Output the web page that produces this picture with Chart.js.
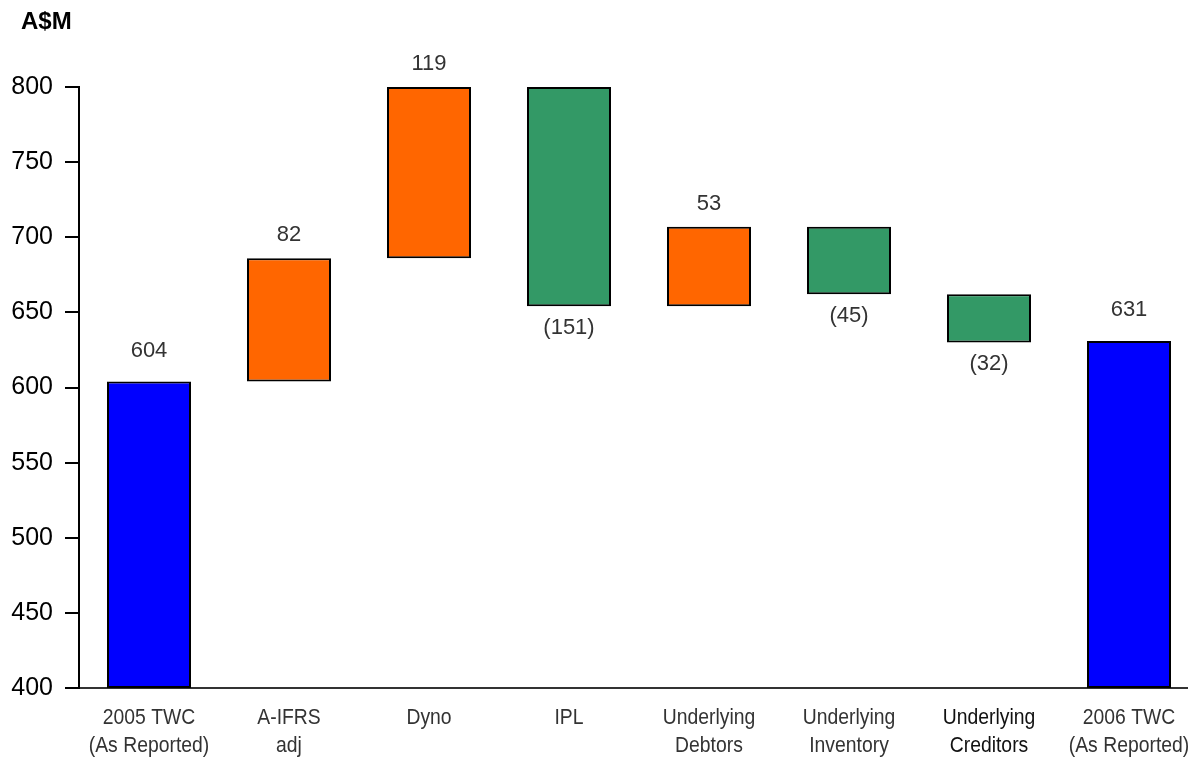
<!DOCTYPE html>
<html>
<head>
<meta charset="utf-8">
<script src="https://cdn.jsdelivr.net/npm/chart.js@4/dist/chart.umd.min.js"></script>
<style>
  body { margin: 0; overflow: hidden; background: #fff; }
  #unit { position: absolute; left: 21px; top: 7px; font: bold 24px 'Liberation Sans', Arial, sans-serif; color: #000; }
  #wrap { position: relative; width: 1188px; height: 759px; overflow: hidden; }
</style>
</head>
<body>
<div id="wrap">
  <canvas id="waterfall" width="1199" height="759"></canvas>
  <div id="unit">A$M</div>
</div>
<script>
// Waterfall data (A$M)
const categories = [
    ['2005 TWC', '(As Reported)'],
    ['A-IFRS', 'adj'],
    ['Dyno'],
    ['IPL'],
    ['Underlying', 'Debtors'],
    ['Underlying', 'Inventory'],
    ['Underlying', 'Creditors'],
    ['2006 TWC', '(As Reported)']
];
const changes = [604, 82, 119, -151, 53, -45, -32, 631];
const kinds = ['total', 'step', 'step', 'step', 'step', 'step', 'step', 'total'];
const yTicks = [400, 450, 500, 550, 600, 650, 700, 750, 800];

const yMin = 400, yMax = 800;

// floating ranges built from the changes
let running = 0;
const ranges = changes.map((v, i) => {
    let lo, hi;
    if (kinds[i] === 'total') {
        lo = yMin; hi = v; running = v;
    } else {
        const start = running;
        running += v;
        lo = start; hi = running;
    }
    return [Math.min(lo, yMax), Math.min(hi, yMax)];
});
const colours = changes.map((v, i) =>
    kinds[i] === 'total' ? '#0000FF' : (v > 0 ? '#FF6600' : '#339966'));
const labels = changes.map(v => v < 0 ? '(' + Math.abs(v) + ')' : String(v));

// value labels above / below each bar
const barLabels = {
    id: 'barLabels',
    afterDatasetsDraw(chart) {
        const ctx = chart.ctx;
        const meta = chart.getDatasetMeta(0);
        ctx.save();
        ctx.font = '22px "Liberation Sans", Arial, sans-serif';
        ctx.fillStyle = '#333';
        ctx.textAlign = 'center';
        ctx.textBaseline = 'middle';
        meta.data.forEach((bar, i) => {
            const top = Math.min(bar.y, bar.base);
            const bottom = Math.max(bar.y, bar.base);
            if (changes[i] < 0) {
                ctx.fillText(labels[i], bar.x, bottom + 22);
            } else {
                ctx.fillText(labels[i], bar.x, top - (kinds[i] === 'total' ? 31 : 23));
            }
        });
        ctx.restore();
    }
};

// narrow category labels under the x axis (no narrow font installed, so squeeze Liberation Sans)
const narrowTicks = {
    id: 'narrowTicks',
    afterDraw(chart) {
        const ctx = chart.ctx;
        const xs = chart.scales.x;
        ctx.save();
        ctx.font = '22px "Liberation Sans", Arial, sans-serif';
        ctx.textAlign = 'center';
        ctx.textBaseline = 'middle';
        categories.forEach((lines, i) => {
            const x = xs.getPixelForTick(i);
            ctx.fillStyle = i === 6 ? '#111' : '#333';
            lines.forEach((t, j) => {
                ctx.save();
                ctx.translate(x, xs.top + 30 + j * 28);
                ctx.scale(0.88, 1);
                ctx.fillText(t, 0, 0);
                ctx.restore();
            });
        });
        ctx.restore();
    }
};

const ctx = document.getElementById('waterfall').getContext('2d');
const chart = new Chart(ctx, {
    type: 'bar',
    data: {
        labels: categories,
        datasets: [{
            data: ranges,
            backgroundColor: colours,
            borderColor: '#000',
            borderWidth: 2,
            borderSkipped: false,
            barPercentage: 1,
            categoryPercentage: 0.6
        }]
    },
    plugins: [barLabels, narrowTicks],
    options: {
        responsive: false,
        animation: false,
        layout: { padding: { top: 87, left: 0, right: 0, bottom: 0 } },
        plugins: {
            legend: { display: false },
            tooltip: { enabled: false }
        },
        scales: {
            x: {
                grid: { display: false },
                border: { display: true, color: '#333', width: 2 },
                ticks: { display: false },
                afterFit: s => { s.height = 71; }
            },
            y: {
                min: yMin,
                max: yMax,
                afterBuildTicks: s => { s.ticks = yTicks.map(v => ({ value: v })); },
                grid: { drawOnChartArea: false, tickLength: 14, color: '#000', lineWidth: 2 },
                border: { display: true, color: '#000', width: 2 },
                ticks: {
                    color: '#000',
                    padding: 12,
                    font: { family: '"Liberation Sans", Arial, sans-serif', size: 25 }
                },
                afterFit: s => { s.width = 79; }
            }
        }
    }
});
</script>
</body>
</html>
